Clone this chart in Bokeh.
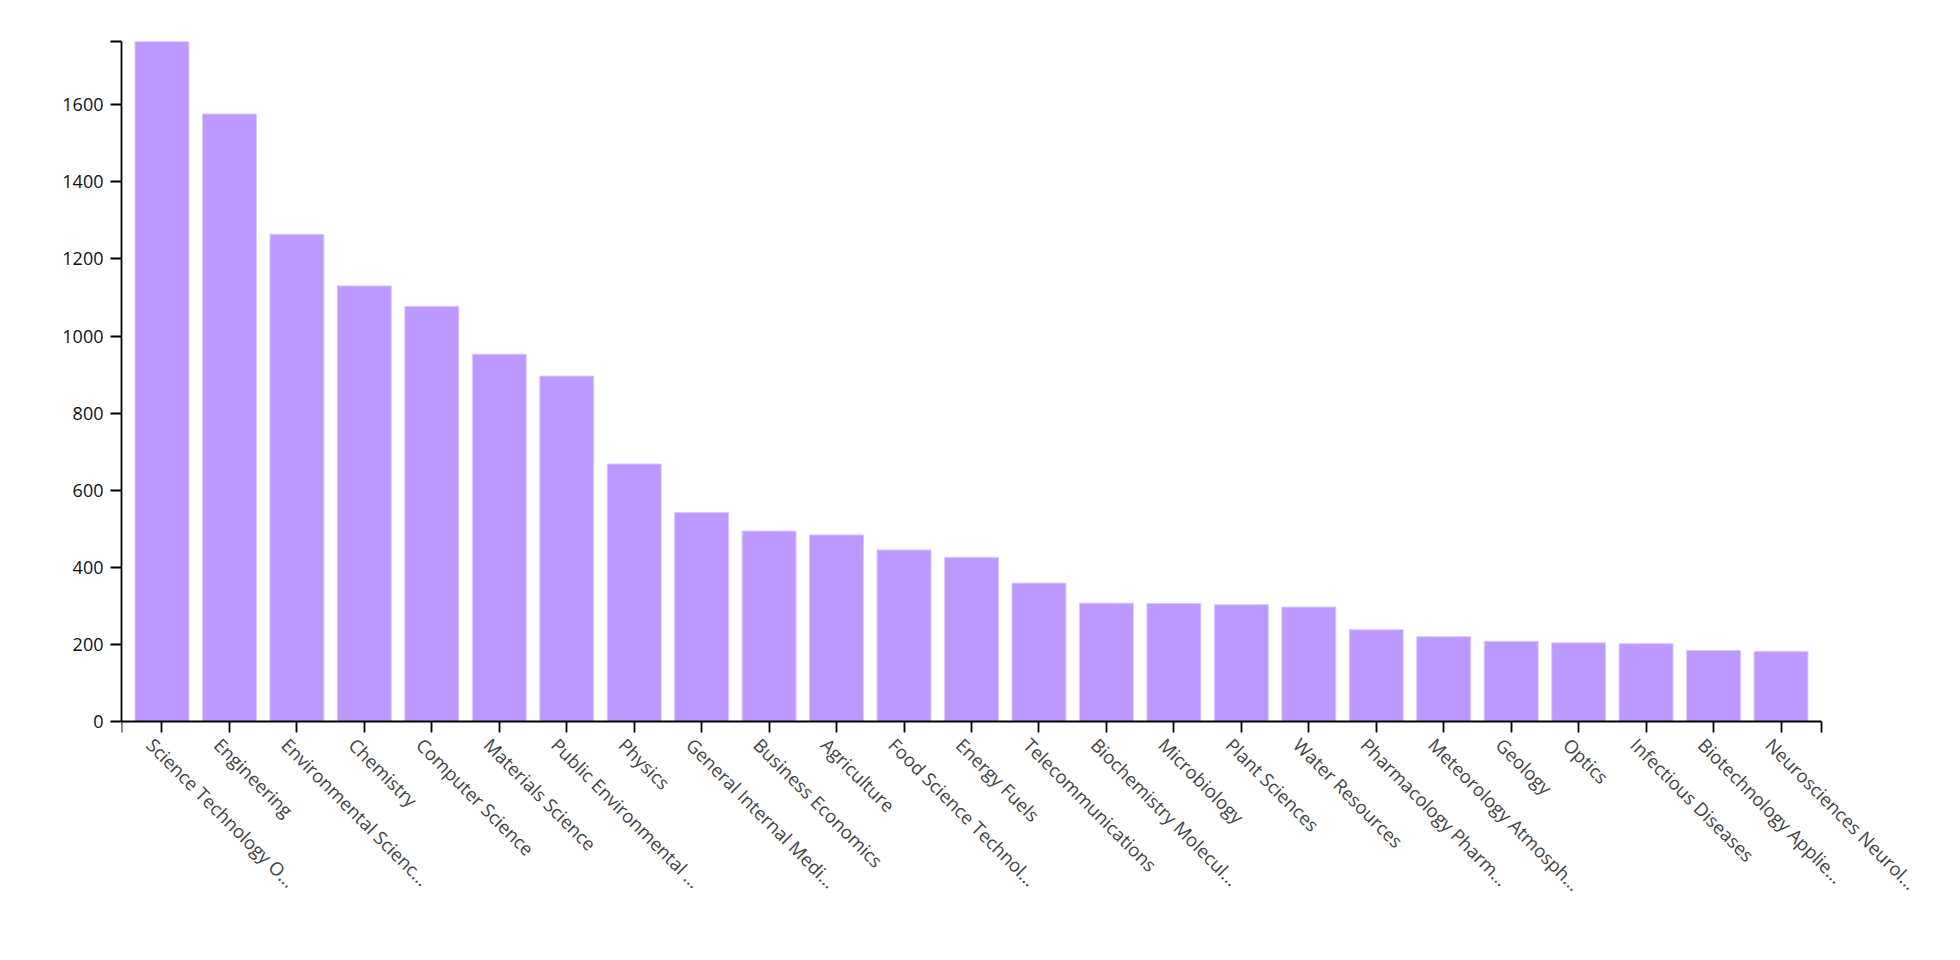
from bokeh.plotting import figure
from bokeh.models import Range1d, FixedTicker, CustomJSTickFormatter, ColumnDataSource, LabelSet
from bokeh.core.properties import value
from bokeh.embed import file_html
from bokeh.resources import INLINE
import math

categories = [
    "Science Technology O…", "Engineering", "Environmental Scienc…", "Chemistry",
    "Computer Science", "Materials Science", "Public Environmental …", "Physics",
    "General Internal Medi…", "Business Economics", "Agriculture",
    "Food Science Technol…", "Energy Fuels", "Telecommunications",
    "Biochemistry Molecul…", "Microbiology", "Plant Sciences", "Water Resources",
    "Pharmacology Pharm…", "Meteorology Atmosph…", "Geology", "Optics",
    "Infectious Diseases", "Biotechnology Applie…", "Neurosciences Neurol…",
]
values = [1764, 1576, 1264, 1130, 1077, 953, 896, 668, 542, 494, 484, 445, 426,
          359, 307, 306, 303, 297, 238, 220, 208, 204, 202, 184, 182]
y_ticks = [0, 200, 400, 600, 800, 1000, 1200, 1400, 1600]

n = len(categories)
pad_inner = 0.2
pad_outer = 0.2
x_start = -(1 - pad_inner) / 2 - pad_outer
x_end = (n - 1) + (1 - pad_inner) / 2 + pad_outer
y_max = max(values)

plot_w = 1700         # pixel width of the band area
plot_h = 680          # pixel height of the value area
label_w = 120         # extra pixel room right of the axis for the last labels
label_h = 210         # extra pixel room below zero for the rotated labels
x_extra = (x_end - x_start) * label_w / plot_w
y_min = -y_max * label_h / plot_h

p = figure(frame_width=plot_w + label_w, frame_height=plot_h + label_h,
           output_backend="svg", toolbar_location=None,
           x_range=Range1d(x_start, x_end + x_extra), y_range=Range1d(y_min, y_max),
           min_border_left=121, min_border_right=5, min_border_top=41,
           min_border_bottom=10)
p.outline_line_color = None
p.grid.visible = False
p.background_fill_color = "white"

xs = list(range(n))
src = ColumnDataSource(data=dict(x=xs, top=values, label=categories,
                                 base=[0] * n))
p.vbar(x="x", top="top", bottom=0, width=1 - pad_inner, source=src,
       fill_color="#bb99ff", line_color="#d8c8ff", line_width=1)

# x axis at zero: ticks only, labels drawn as rotated LabelSet
p.xaxis.fixed_location = 0
p.xaxis.bounds = (x_start, x_end)
p.xaxis.ticker = FixedTicker(ticks=[x_start] + xs + [x_end])
p.xaxis.formatter = CustomJSTickFormatter(code='return "";')

labels = LabelSet(x="x", y="base", text="label", source=src,
                  angle=-math.pi / 4, x_offset=-17, y_offset=-25,
                  text_align="left", text_baseline="alphabetic",
                  text_font=value("Open Sans"), text_font_size="18.5px",
                  text_color="#444444")
p.add_layout(labels)

# y axis
p.yaxis.bounds = (0, y_max)
p.yaxis.ticker = FixedTicker(ticks=y_ticks + [y_max])
p.yaxis.formatter = CustomJSTickFormatter(args=dict(labels=y_ticks), code="""
    return labels.includes(tick) ? tick.toString() : "";
""")
p.yaxis.major_label_text_font = "Open Sans"
p.yaxis.major_label_text_font_size = "18px"
p.yaxis.major_label_text_color = "#111111"
p.yaxis.major_label_standoff = 7

for ax in (p.xaxis, p.yaxis):
    ax.axis_line_color = "black"
    ax.axis_line_width = 1.8
    ax.major_tick_line_color = "black"
    ax.major_tick_line_width = 1.8
    ax.major_tick_out = 11
    ax.major_tick_in = 0
    ax.minor_tick_line_color = None

open("out.html", "w").write(file_html(p, INLINE))
